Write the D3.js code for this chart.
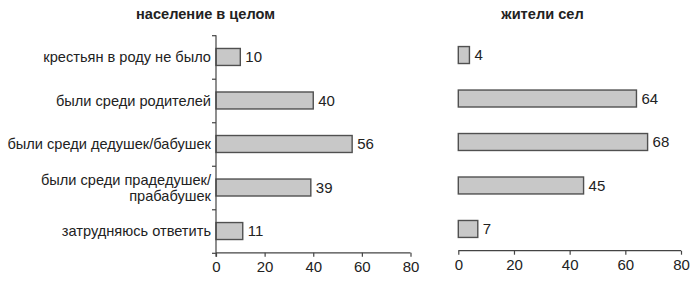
<!DOCTYPE html>
<html>
<head>
<meta charset="utf-8">
<script src="https://cdn.jsdelivr.net/npm/d3@7"></script>
<style>
  body { margin: 0; background: #fff; }
  text { font-family: "Liberation Sans", Arial, sans-serif; fill: #222; }
</style>
</head>
<body>
<div id="chart"></div>
<script>
// categories (line breaks marked with \n)
const categories = [
  "крестьян в роду не было",
  "были среди родителей",
  "были среди дедушек/бабушек",
  "были среди прадедушек/\nпрабабушек",
  "затрудняюсь ответить"
];
const titles = ["население в целом", "жители сел"];
const allPopulation = [10, 40, 56, 39, 11];
const villagers = [4, 64, 68, 45, 7];
const xTicks = [0, 20, 40, 60, 80];

const W = 700, H = 282;
const svg = d3.select("#chart").append("svg")
  .attr("width", W).attr("height", H);

// one panel per series
const panels = [
  { title: titles[0], values: allPopulation, titleX: 205.5, x0: 216, x1: 410.5, y0: 35.2, y1: 252.8, yAxis: true },
  { title: titles[1], values: villagers, titleX: 542.5, x0: 458.3, x1: 681, y0: 33.3, y1: 250.7, yAxis: false }
];

panels.forEach(function(p) {
  let x = d3.scaleLinear().domain([0, 80]).range([p.x0, p.x1]);
  let y = d3.scaleBand().domain(categories).range([p.y0, p.y1]).padding(0);
  let step = y.step();
  let barH = step * 0.39;

  let g = svg.append("g");

  // title
  g.append("text")
    .attr("x", p.titleX)
    .attr("y", 19)
    .attr("text-anchor", "middle")
    .attr("font-size", "14.6px")
    .attr("font-weight", "bold")
    .text(p.title);

  // bars
  g.selectAll("rect")
    .data(p.values)
    .enter()
    .append("rect")
    .attr("x", x(0))
    .attr("y", function(d, i) { return y(categories[i]) + (step - barH) / 2; })
    .attr("width", function(d) { return x(d) - x(0); })
    .attr("height", barH)
    .attr("fill", "#c8c8c8")
    .attr("stroke", "#505050")
    .attr("stroke-width", 1.4);

  // value labels
  g.selectAll(".val")
    .data(p.values)
    .enter()
    .append("text")
    .attr("class", "val")
    .attr("x", function(d) { return x(d) + 5; })
    .attr("y", function(d, i) { return y(categories[i]) + step / 2; })
    .attr("dy", "0.36em")
    .attr("font-size", "15px")
    .text(function(d) { return d; });

  // x axis
  let xAxis = d3.axisBottom(x).tickValues(xTicks).tickSize(4).tickPadding(5);
  let ax = g.append("g")
    .attr("transform", "translate(0," + p.y1 + ")")
    .call(xAxis);
  ax.select(".domain").attr("stroke", "#444").attr("stroke-width", 1.2)
    .attr("d", "M" + p.x0 + ",0H" + p.x1);
  ax.selectAll(".tick line").attr("stroke", "#444").attr("stroke-width", 1.2);
  ax.selectAll(".tick text")
    .attr("font-size", "15px")
    .attr("font-family", "Liberation Sans, Arial, sans-serif")
    .attr("fill", "#222");

  if (p.yAxis) {
    // y axis with ticks between categories
    let yLin = d3.scaleLinear().domain([0, categories.length]).range([p.y0, p.y1]);
    let yAxis = d3.axisLeft(yLin).tickValues(d3.range(categories.length + 1))
      .tickSize(4).tickFormat("");
    let ay = g.append("g")
      .attr("transform", "translate(" + p.x0 + ",0)")
      .call(yAxis);
    ay.select(".domain").attr("stroke", "#444").attr("stroke-width", 1.2)
      .attr("d", "M0," + p.y0 + "V" + (p.y1 + 4));
    ay.selectAll(".tick line").attr("stroke", "#444").attr("stroke-width", 1.2);

    // category labels
    let lab = g.selectAll(".cat")
      .data(categories)
      .enter()
      .append("text")
      .attr("class", "cat")
      .attr("text-anchor", "end")
      .attr("font-size", "14.6px")
      .attr("y", function(d) { return y(d) + step / 2; });
    lab.each(function(d) {
      let lines = d.split("\n");
      let t = d3.select(this);
      lines.forEach(function(line, k) {
        t.append("tspan")
          .attr("x", p.x0 - 5)
          .attr("dy", k === 0 ? (0.36 - (lines.length - 1) * 0.55) + "em" : "1.1em")
          .text(line);
      });
    });
  }
});
</script>
</body>
</html>
